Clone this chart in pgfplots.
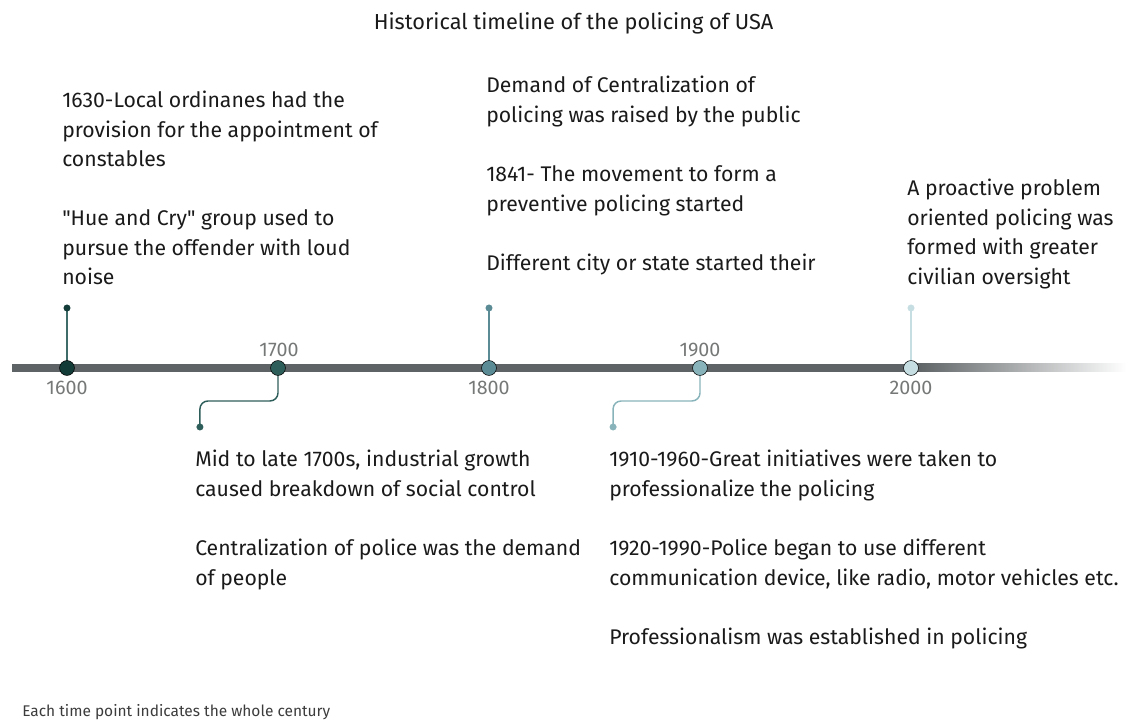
\documentclass[border=0pt]{standalone}
\usepackage{fontspec}
\setmainfont{Fira Sans}
\usepackage{pgfplots}
\pgfplotsset{compat=1.18}
\definecolor{barc}{HTML}{5E6365}
\definecolor{c1}{HTML}{133B38}
\definecolor{c2}{HTML}{2E5E5A}
\definecolor{c3}{HTML}{5B8C96}
\definecolor{c4}{HTML}{88B3BA}
\definecolor{c5}{HTML}{C6DEE2}
\definecolor{s1}{HTML}{3F6B68}
\definecolor{yr}{HTML}{767878}
\definecolor{txt}{HTML}{1A1A1A}
\newcommand\body{\fontsize{15.9}{18}\selectfont}
\newcommand\tline[3]{\node[anchor=base west, inner sep=0pt, font=\body, text=txt] at (#1,#2) {#3};}
\newcommand\yl[3]{\node[anchor=center, inner sep=0pt, font=\fontsize{14.8}{16}\selectfont, text=yr] at (#1,#2) {#3};}
\begin{document}
\begin{tikzpicture}
\begin{axis}[scale only axis, width=844.5pt, height=541.5pt,
  xmin=1568.246, xmax=2101.895, ymin=0, ymax=722,
  hide axis, clip=false]
% timeline bar
\addplot[barc, line width=6pt, forget plot] coordinates {(1573.9,354)(2002.9,354)};
\fill[left color=barc, right color=white, draw=none] (axis cs:2002.8,350) rectangle (axis cs:2101.9,358);
% stems up
\addplot[s1, line width=1.1pt] coordinates {(1600,354)(1600,414)};
\addplot[c3, line width=1.1pt] coordinates {(1800,354)(1800,414)};
\addplot[c5, line width=1.1pt] coordinates {(2000,354)(2000,414)};
% connectors down
\addplot[c2, line width=1.1pt, rounded corners=6pt] coordinates {(1700,354)(1700,321)(1663,321)(1663,295)};
\addplot[c4, line width=1.1pt, rounded corners=6pt] coordinates {(1900,354)(1900,321)(1858.8,321)(1858.8,295)};
% small end dots
\addplot[only marks, mark=*, mark size=2.4pt, c1, mark options={draw=none, fill=c1}] coordinates {(1600,414)};
\addplot[only marks, mark=*, mark size=2.4pt, c2, mark options={draw=none, fill=c2}] coordinates {(1663,295)};
\addplot[only marks, mark=*, mark size=2.4pt, c3, mark options={draw=none, fill=c3}] coordinates {(1800,414)};
\addplot[only marks, mark=*, mark size=2.4pt, c4, mark options={draw=none, fill=c4}] coordinates {(1858.8,295)};
\addplot[only marks, mark=*, mark size=2.4pt, c5, mark options={draw=none, fill=c5}] coordinates {(2000,414)};
% big dots
\addplot[only marks, mark=*, mark size=5.6pt, mark options={draw=none, fill=c1}] coordinates {(1600,354)};
\addplot[only marks, mark=*, mark size=5.6pt, mark options={draw=none, fill=c2}] coordinates {(1700,354)};
\addplot[only marks, mark=*, mark size=5.6pt, mark options={draw=none, fill=c3}] coordinates {(1800,354)};
\addplot[only marks, mark=*, mark size=5.6pt, mark options={draw=none, fill=c4}] coordinates {(1900,354)};
\addplot[only marks, mark=*, mark size=5.6pt, mark options={draw=none, fill=c5}] coordinates {(2000,354)};
\coordinate (BL) at (rel axis cs:0,0);
\coordinate (TR) at (rel axis cs:1,1);
\end{axis}
\begin{scope}[x=0.75pt, y=-0.75pt, yshift=541.5pt]
\node[anchor=base, inner sep=0pt, font=\fontsize{16.3}{18}\selectfont, text=txt] at (573.5,29.5) {Historical timeline of the policing of USA};
\node[anchor=base west, inner sep=0pt, font=\fontsize{11.6}{14}\selectfont, text=txt!85] at (22,717) {Each time point indicates the whole century};
\yl{67}{388}{1600}
\yl{279}{350}{1700}
\yl{489}{388}{1800}
\yl{700}{350}{1900}
\yl{911}{388}{2000}
% block 1600
\tline{62}{108}{1630-Local ordinanes had the}
\tline{62}{137.5}{provision for the appointment of}
\tline{62}{167}{constables}
\tline{62}{226}{\textquotedbl Hue and Cry\textquotedbl\ group used to}
\tline{62}{255.5}{pursue the offender with loud}
\tline{62}{285}{noise}
% block 1800
\tline{486}{93}{Demand of Centralization of}
\tline{486}{122.5}{policing was raised by the public}
\tline{486}{182}{1841- The movement to form a}
\tline{486}{211.5}{preventive policing started}
\tline{486}{270.5}{Different city or state started their}
% block 2000
\tline{907}{196}{A proactive problem}
\tline{907}{225.5}{oriented policing was}
\tline{907}{255}{formed with greater}
\tline{907}{284.5}{civilian oversight}
% block 1700
\tline{195}{467}{Mid to late 1700s, industrial growth}
\tline{195}{496.5}{caused breakdown of social control}
\tline{195}{556}{Centralization of police was the demand}
\tline{195}{585.5}{of people}
% block 1900
\tline{609}{467}{1910-1960-Great initiatives were taken to}
\tline{609}{496.5}{professionalize the policing}
\tline{609}{556}{1920-1990-Police began to use different}
\tline{609}{585.5}{communication device, like radio, motor vehicles etc.}
\tline{609}{644.5}{Professionalism was established in policing}
\end{scope}
\pgfresetboundingbox
\path (BL) rectangle (TR);
\end{tikzpicture}
\end{document}
